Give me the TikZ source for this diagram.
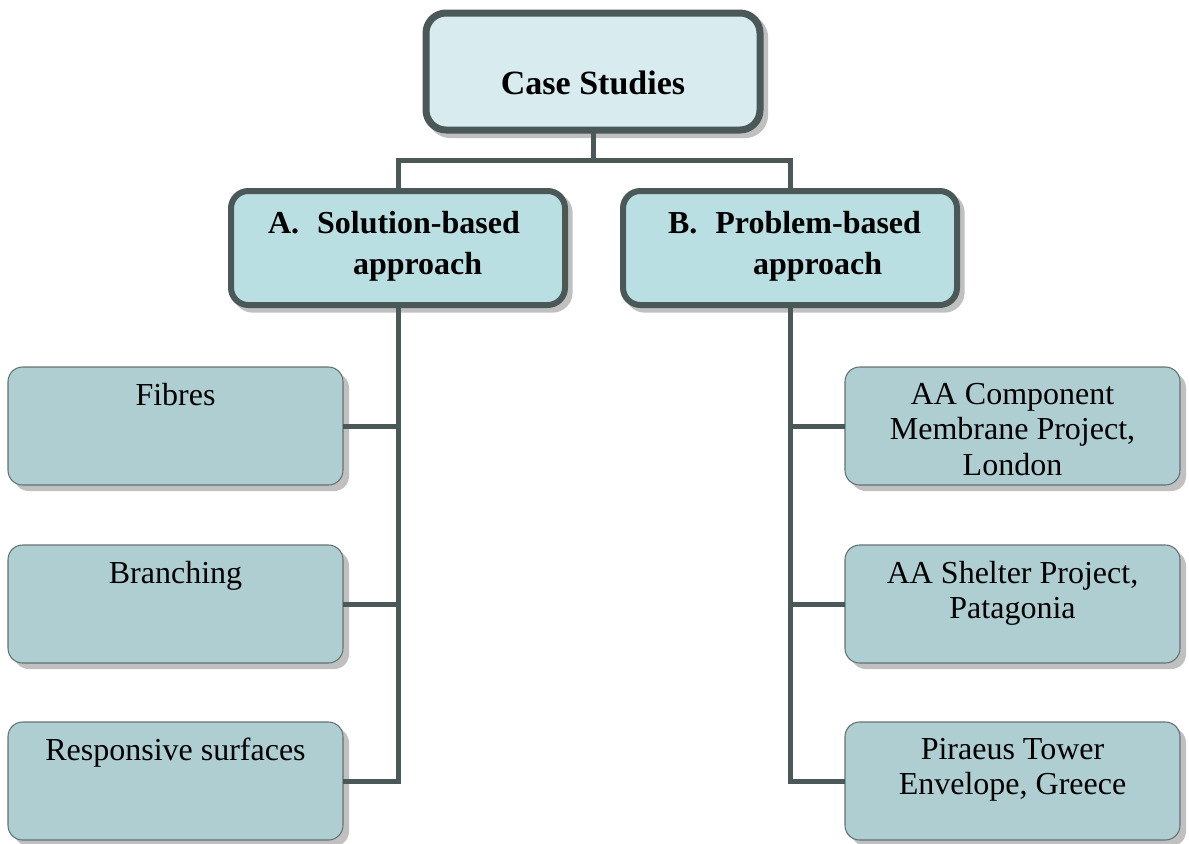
\documentclass[tikz,border=0pt]{standalone}
\usepackage{fontspec}
\setmainfont{Liberation Serif}
\usetikzlibrary{shadows}
\definecolor{edgegray}{RGB}{74,88,88}
\definecolor{topfill}{RGB}{216,236,240}
\definecolor{midfill}{RGB}{186,223,227}
\definecolor{leaffill}{RGB}{174,206,210}
\definecolor{shadegray}{RGB}{192,192,192}
\begin{document}
\begin{tikzpicture}[x=0.75pt,y=-0.75pt,
  every node/.style={inner sep=0pt, outer sep=0pt},
  headbox/.style={rectangle, draw=edgegray, line width=5.25pt, fill=topfill,
    rounded corners=15pt, minimum width=250.5pt, minimum height=87.75pt,
    general shadow={shadow xshift=3.5pt, shadow yshift=-3.5pt,
      fill=shadegray, draw=shadegray, line width=5.25pt}},
  groupbox/.style={rectangle, draw=edgegray, line width=4.5pt, fill=midfill,
    rounded corners=13pt, minimum width=250.5pt, minimum height=85.5pt,
    general shadow={shadow xshift=3.5pt, shadow yshift=-3.5pt,
      fill=shadegray, draw=shadegray, line width=4.5pt}},
  leafbox/.style={rectangle, draw=edgegray!85, line width=0.8pt, fill=leaffill,
    rounded corners=11pt, minimum width=251.25pt, minimum height=88.5pt,
    general shadow={shadow xshift=4.5pt, shadow yshift=-4.5pt,
      fill=shadegray, draw=none}},
  headtext/.style={font=\fontsize{25.5}{30}\selectfont\bfseries},
  grouptext/.style={font=\fontsize{24}{30.75}\selectfont\bfseries, align=left},
  leaftext/.style={font=\fontsize{24}{26.6}\selectfont, align=center},
  link/.style={draw=edgegray, line width=3.75pt}
]
\useasboundingbox (0,0) rectangle (1189,843);

% top level
\node[headbox] (top) at (593,71.5) {};
\node[headtext, anchor=north] (toptext) at (593,71) {Case Studies};

% the two approaches
\node[groupbox] (solA) at (398,248) {};
\node[groupbox] (probB) at (790,248) {};
\node[grouptext, anchor=north west] (solAtext) at (268,211)
  {A.\hspace{13.5pt}Solution-based\\\hspace*{63.75pt}approach};
\node[grouptext, anchor=north west] (probBtext) at (668,211)
  {B.\hspace{13.5pt}Problem-based\\\hspace*{63.75pt}approach};

% solution-based case studies
\node[leafbox] (fib) at (175.5,426) {};
\node[leafbox] (bra) at (175.5,604) {};
\node[leafbox] (res) at (175.5,781) {};
\node[leaftext, anchor=north] (fibtext) at (175.5,383) {Fibres};
\node[leaftext, anchor=north] (bratext) at (175.5,561) {Branching};
\node[leaftext, anchor=north] (restext) at (175.5,738) {Responsive surfaces};

% problem-based case studies
\node[leafbox] (aam) at (1012.5,426) {};
\node[leafbox] (aas) at (1012.5,604) {};
\node[leafbox] (pir) at (1012.5,781) {};
\node[leaftext, anchor=north] (aamtext) at (1012.5,383)
  {AA Component\\Membrane Project,\\London};
\node[leaftext, anchor=north] (aastext) at (1012.5,561)
  {AA Shelter Project,\\Patagonia};
\node[leaftext, anchor=north] (pirtext) at (1012.5,738)
  {Piraeus Tower\\Envelope, Greece};

% connectors
\coordinate (split) at (593,160);
\draw[link] (top.south) -- (split);
\draw[link] (split) -| (solA.north);
\draw[link] (split) -| (probB.north);

\draw[link] (solA.south) |- (res.east);
\draw[link] (fib.east) -- (fib.east -| solA.south);
\draw[link] (bra.east) -- (bra.east -| solA.south);

\draw[link] (probB.south) |- (pir.west);
\draw[link] (aam.west) -- (aam.west -| probB.south);
\draw[link] (aas.west) -- (aas.west -| probB.south);
\end{tikzpicture}
\end{document}
